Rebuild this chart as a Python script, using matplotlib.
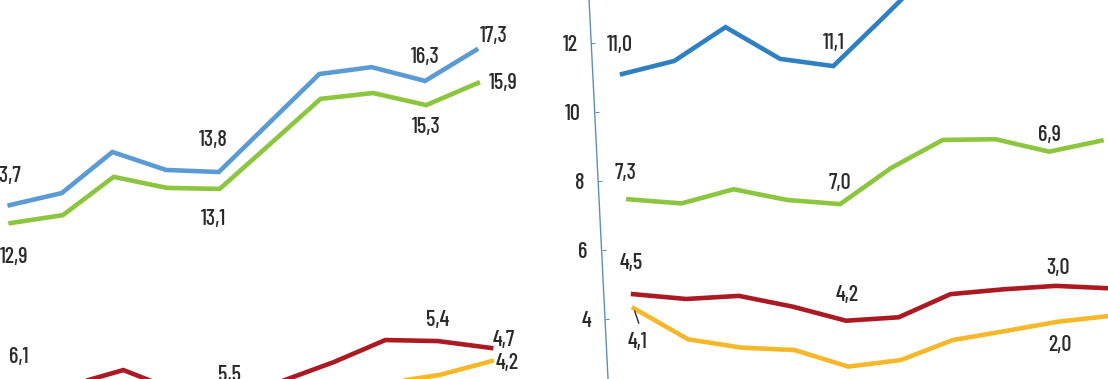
import numpy as np
import matplotlib
matplotlib.use("Agg")
import matplotlib.pyplot as plt
import matplotlib.transforms as mtransforms

# ten periods in each panel
periods = list(range(10))

# left panel (same value scale as the right panel)
left_blue = [7.30, 7.65, 8.84, 8.32, 8.26, 9.68, 11.10, 11.30, 10.90, 11.80]
left_green = [6.78, 7.01, 8.12, 7.80, 7.77, 9.07, 10.38, 10.55, 10.20, 10.84]
left_red = [2.15, 2.09, 2.52, 1.91, 1.80, 2.20, 2.75, 3.39, 3.36, 3.16]
left_yellow = [1.90, 1.70, 1.60, 1.55, 1.50, 1.60, 1.80, 2.15, 2.38, 2.78]

# right panel
right_blue = [11.10, 11.48, 12.46, 11.54, 11.33, 12.75, 14.20, 14.40, 14.10, 14.60]
right_green = [7.47, 7.35, 7.76, 7.45, 7.33, 8.38, 9.19, 9.21, 8.85, 9.17]
right_red = [4.72, 4.58, 4.67, 4.36, 3.95, 4.05, 4.72, 4.86, 4.96, 4.89]
right_yellow = [4.31, 3.41, 3.17, 3.10, 2.62, 2.81, 3.39, 3.65, 3.92, 4.09]

right_yticks = [2, 4, 6, 8, 10, 12]

# value labels printed on the chart, by period index
left_blue_labels = {0: "13,7", 4: "13,8", 8: "16,3", 9: "17,3"}
left_green_labels = {0: "12,9", 4: "13,1", 8: "15,3", 9: "15,9"}
left_red_labels = {0: "6,1", 4: "5,5", 8: "5,4", 9: "4,7"}
left_yellow_labels = {9: "4,2"}
right_blue_labels = {0: "11,0", 4: "11,1"}
right_green_labels = {0: "7,3", 4: "7,0", 8: "6,9"}
right_red_labels = {0: "4,5", 4: "4,2", 8: "3,0"}
right_yellow_labels = {0: "4,1", 8: "2,0"}

FONT = ["Barlow Condensed", "DejaVu Sans"]
TEXT_COLOR = "#2a2a2a"
AXIS_COLOR = "#5f8fb8"

fig = plt.figure(figsize=(11.08, 3.79), dpi=100)

# the photo is slightly slanted: shift x by height
k = 0.05
skew = (mtransforms.Affine2D().translate(0, -189.5)
        .skew(np.arctan(-k), 0).translate(0, 189.5))

ax_l = fig.add_axes([-0.01575, -0.2058, 0.4756, 1.2058])
ax_r = fig.add_axes([0.5402, -0.2058, 0.48, 1.2058])

for ax in (ax_l, ax_r):
    ax.set_ylim(0, 13.246)
    ax.patch.set_alpha(0)
    for s in ax.spines.values():
        s.set_visible(False)
    ax.set_xticks([])

ax_l.set_xlim(-0.5, 9.5)
ax_l.set_yticks([])
ax_r.set_xlim(-0.554, 9.5)

left_series = [
    (left_blue, "#5b9bd5", left_blue_labels),
    (left_green, "#8cc63f", left_green_labels),
    (left_red, "#ab1a22", left_red_labels),
    (left_yellow, "#f5b82a", left_yellow_labels),
]
right_series = [
    (right_blue, "#2f80c2", right_blue_labels),
    (right_green, "#8cc63f", right_green_labels),
    (right_red, "#ab1a22", right_red_labels),
    (right_yellow, "#f5b82a", right_yellow_labels),
]

# label offsets in pixels (dx right, dy down), same order as the series
left_offsets = [
    {0: (-2, -29), 4: (-6, -32), 8: (0, -24), 9: (17, -14)},
    {0: (3, 34), 4: (-6, 30), 8: (0, 22), 9: (25, 0)},
    {0: (0, -26), 4: (0, -20), 8: (0, -21), 9: (13, -8)},
    {9: (15, 2)},
]
right_offsets = [
    {0: (-2, -29), 4: (0, -23)},
    {0: (-3, -26), 4: (0, -21), 8: (0, -17)},
    {0: (-2, -31), 4: (1, -26), 8: (2, -18)},
    {0: (4, 34), 8: (2, 23)},
]

for ax, series, offsets in ((ax_l, left_series, left_offsets),
                            (ax_r, right_series, right_offsets)):
    tr = ax.transData + skew
    for (vals, color, labels), offs in zip(series, offsets):
        ax.plot(periods, vals, color=color, lw=3.3, transform=tr,
                solid_joinstyle="miter")
        for i, txt in labels.items():
            dx, dy = offs[i]
            ax.annotate(txt, (periods[i], vals[i]), xycoords=tr,
                        xytext=(dx, -dy), textcoords="offset pixels",
                        ha="center", va="center", fontsize=16,
                        fontweight="medium", family=FONT, color=TEXT_COLOR)

# small leader from the "4,1" label to the yellow line
ax_r.annotate("", (periods[0], right_yellow[0]), xycoords=ax_r.transData + skew,
              xytext=(5, -15), textcoords="offset pixels",
              arrowprops=dict(arrowstyle="-", color=TEXT_COLOR, lw=1.0,
                              shrinkA=0, shrinkB=2))

# right panel y axis, slanted like the photo
sp = ax_r.spines["left"]
sp.set_visible(True)
sp.set_color(AXIS_COLOR)
sp.set_linewidth(1.0)
sp.set_position(("outward", 0))
sp.set_transform(sp.get_transform() + skew)

ax_r.set_yticks(right_yticks)
ax_r.set_yticklabels([str(v) for v in right_yticks], family=FONT,
                     fontsize=16, fontweight="medium", color=TEXT_COLOR)
ax_r.tick_params(axis="y", direction="in", length=3, width=0.8,
                 color=AXIS_COLOR, pad=10)
for t in ax_r.yaxis.get_major_ticks():
    t.tick1line.set_transform(t.tick1line.get_transform() + skew)
    t.label1.set_transform(t.label1.get_transform() + skew)

fig.savefig("out.png", dpi=100)
